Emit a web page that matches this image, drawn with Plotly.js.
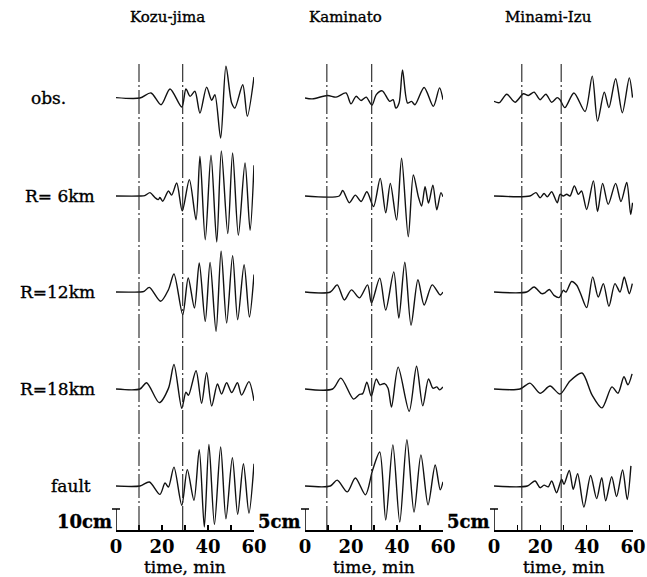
<!DOCTYPE html>
<html><head><meta charset="utf-8">
<script src="https://cdn.plot.ly/plotly-3.0.1.min.js"></script>
<style>
html,body{margin:0;padding:0;background:#fff}
#chart .annotation-text { stroke:#000; stroke-width:0.35px; }
</style>
</head><body><div id="chart" style="width:647px;height:577px"></div>
<script>
// ---------------- data ----------------
const stations = ['Kozu-jima', 'Kaminato', 'Minami-Izu'];
const models = ['obs.', 'R= 6km', 'R=12km', 'R=18km', 'fault'];
const scaleBarCm = [10, 5, 5];
const arrivalMin = [[10, 29], [9.5, 29], [12, 29]];
const tickVals = [0, 10, 20, 30, 40, 50, 60];
const tickText = ['0', '', '20', '', '40', '', '60'];
const axisTitle = 'time, min';

// Kozu-jima (cm)
const kozu_obs_t  = [0, 10.4, 15.2, 19.6, 23.5, 28.6, 30.4, 32.2, 34.3, 36.5, 39.4, 41.6, 43.0, 45.5, 47.8, 50.3, 51.7, 55.1, 57.1, 60];
const kozu_obs_cm = [0.2, 0, 2.4, -3.2, 4.3, -4.3, 4.3, 0.8, 3.2, -7.2, 5.2, -1.1, 1.6, -19.1, 15.1, -2.4, -4.8, 6.3, -8.7, 10.0];
const kozu_r6_t   = [0, 10.4, 12.5, 14.8, 17.0, 18.4, 19.1, 20.3, 22.8, 24.2, 26.4, 28.8, 31.9, 34.8, 36.5, 38.8, 41.3, 43.8, 45.8, 48.6, 50.7, 53.2, 56.1, 58.3, 60];
const kozu_r6_cm  = [0, 0, 0.2, 1.6, -0.8, -1.7, -0.7, -2.5, 2.4, 0.4, 6.2, -7.1, 7.8, -11.3, 18.9, -20.8, 19.4, -21.9, 21.4, -17.9, 20.5, -18.7, 15.7, -16.3, 14.6];
const kozu_r12_t  = [0, 10.4, 12.2, 14.5, 19.4, 22.8, 25.2, 29.0, 31.4, 34.1, 36.2, 38.8, 40.9, 43.5, 45.7, 48.1, 50.7, 52.9, 55.7, 58.0, 60];
const kozu_r12_cm = [0, 0, 0.3, 2.2, -4.4, 1.1, 8.6, -10.8, 6.7, -7.6, 13.8, -14.0, 14.1, -18.7, 19.4, -14.8, 17.3, -13.2, 13.0, -11.9, 8.3];
const kozu_r18_t  = [0, 10.4, 13.3, 18.8, 22.8, 25.2, 28.6, 30.4, 31.5, 34.8, 37.2, 39.4, 41.6, 44.1, 45.9, 48.1, 50.3, 52.8, 54.6, 57.8, 60];
const kozu_r18_cm = [0, 0, 3.0, -6.5, 0.3, 11.7, -9.2, -1.5, -3.0, 8.7, -6.8, 7.8, -8.1, 2.4, -2.4, 3.0, -1.7, 3.0, -2.9, 3.5, -5.6];
const kozu_flt_t  = [0, 10.4, 14.5, 19.1, 21.3, 22.8, 25.2, 28.6, 31.0, 33.9, 36.2, 38.4, 40.4, 42.8, 45.5, 47.8, 50.6, 52.9, 55.4, 57.8, 60];
const kozu_flt_cm = [0, 0, 1.9, -4.0, 1.4, -0.5, 9.0, -9.2, 7.8, -6.8, 17.3, -19.5, 19.8, -18.3, 18.6, -15.6, 13.5, -13.5, 10.6, -12.9, 10.6];

// Kaminato (cm)
const kami_obs_t  = [0, 3.2, 9.8, 13.5, 17.8, 20.0, 22.2, 24.4, 26.6, 29.1, 31.0, 33.6, 36.8, 38.3, 39.5, 40.9, 42.4, 44.6, 46.3, 47.8, 51.8, 55.8, 58.5, 60];
const kami_obs_cm = [0, -0.2, 0.6, 0.2, 1.2, -1.4, 0.4, -0.6, 0.2, -1.7, 0.8, 1.7, -0.8, -0.4, -2.4, -1.2, 6.7, -1.2, -0.8, -1.6, 2.5, -2.0, 2.4, -0.4];
const kami_r6_t   = [0, 14.9, 16.4, 19.3, 21.9, 24.4, 26.9, 29.8, 32.7, 35.1, 37.1, 39.8, 42.0, 44.9, 47.1, 49.3, 50.7, 52.2, 53.7, 55.6, 57.3, 59.1, 60];
const kami_r6_cm  = [0, 0, 1.3, -1.6, 0.2, -1.3, 1.0, -2.5, 4.2, -4.0, 3.0, -5.7, 9.0, -9.7, 5.0, -0.2, -2.4, 2.2, -1.7, 2.6, -3.3, 0.8, -0.2];
const kami_r12_t  = [0, 11.0, 14.0, 17.1, 20.2, 23.7, 27.2, 28.9, 32.5, 35.1, 38.6, 40.8, 43.4, 46.1, 49.1, 51.8, 55.3, 58.8, 60];
const kami_r12_cm = [0, 0, 1.7, -1.9, 0.5, -1.4, 1.7, -2.6, 3.3, -4.3, 4.8, -6.2, 7.1, -7.9, 2.9, -3.1, 1.7, -0.7, 0];
const kami_r18_t  = [0, 12.0, 15.6, 21.1, 23.7, 25.1, 26.9, 28.8, 31.0, 32.5, 34.6, 36.1, 37.6, 40.5, 45.3, 48.5, 51.2, 53.7, 55.6, 57.3, 58.5, 60];
const kami_r18_cm = [0, 0, 2.6, -2.4, -1.3, -1.1, 1.6, -1.7, 2.4, 1.0, 1.3, 0.2, -4.3, 5.2, -5.3, 5.4, -4.0, 2.4, 0.2, 0.5, -0.2, 0.5];
const kami_flt_t  = [0, 11.0, 14.0, 18.4, 21.9, 26.3, 29.4, 32.5, 35.1, 38.2, 41.2, 44.3, 47.4, 50.4, 53.5, 56.6, 58.8, 60];
const kami_flt_cm = [0, 0, 1.4, -1.4, 1.9, -2.1, 3.8, 8.1, -8.1, 9.8, -8.6, 11.0, -6.2, 7.4, -4.5, 5.0, -0.9, 1.0];

// Minami-Izu (cm)
const mina_obs_t  = [0, 2.3, 5.5, 9.1, 12.7, 14.8, 17.3, 19.9, 22.4, 24.9, 27.3, 28.5, 30.6, 34.5, 39.3, 42.4, 44.7, 47.6, 49.6, 52.5, 55.4, 58.4, 59.8];
const mina_obs_cm = [-0.8, -1.1, 0.9, -1.0, 1.0, 0.6, 1.4, -0.4, 0.9, -1.0, 0.1, -0.4, -2.3, 1.2, -3.2, 5.2, -5.5, 1.4, -2.3, 4.6, -3.5, 4.8, 0.1];
const mina_r6_t   = [0, 15.5, 18.1, 19.9, 21.6, 23.0, 24.9, 27.3, 28.5, 29.9, 31.4, 32.8, 34.7, 36.4, 37.8, 40.0, 42.9, 44.7, 46.9, 49.3, 52.5, 54.8, 57.3, 59.0, 59.8];
const mina_r6_cm  = [0, 0, 0.8, -0.4, 0.6, -0.2, 1.0, -1.6, 0.4, 0, 0.4, 0, 2.4, 0.4, 1.2, -3.2, 3.6, -3.7, 3.0, -2.0, 3.0, -1.3, 3.2, -4.4, -1.6];
const mina_r12_t  = [0, 14.1, 17.3, 20.6, 22.0, 23.9, 25.9, 28.2, 29.9, 31.1, 33.5, 35.7, 37.4, 40.0, 42.6, 45.0, 47.2, 49.6, 52.2, 54.4, 56.2, 57.3, 58.4, 59.7];
const mina_r12_cm = [0, 0, 1.2, -0.4, -0.2, 0.6, -0.8, -1.3, 0.4, 0, 2.5, 1.6, -0.4, -3.7, 3.6, -1.2, 2.0, -3.4, 2.0, 0, 3.6, 1.6, -0.4, 2.0];
const mina_r18_t  = [0, 11.2, 15.5, 19.9, 24.2, 28.5, 32.8, 38.0, 42.3, 46.6, 50.9, 53.5, 56.1, 57.8, 59.6];
const mina_r18_cm = [0, 0, 1.4, -1.0, 0.7, -1.2, 1.9, 3.8, -1.4, -4.5, 0.5, -1.0, 2.9, 1.0, 3.6];
const mina_flt_t  = [0, 14.4, 17.7, 19.9, 21.6, 23.4, 24.9, 27.0, 29.2, 30.2, 32.5, 34.2, 36.1, 38.8, 41.7, 44.3, 46.5, 48.2, 50.8, 52.9, 55.5, 57.5, 59.1];
const mina_flt_cm = [0, 0, 1.2, -0.4, 0.2, -0.2, 1.2, -1.6, 1.6, 0.4, 3.7, -0.8, 2.9, -5.0, 2.5, -3.0, 2.0, -3.5, 2.2, -2.5, 3.8, -3.2, 4.8];

const series = [
  [[kozu_obs_t, kozu_obs_cm], [kozu_r6_t, kozu_r6_cm], [kozu_r12_t, kozu_r12_cm], [kozu_r18_t, kozu_r18_cm], [kozu_flt_t, kozu_flt_cm]],
  [[kami_obs_t, kami_obs_cm], [kami_r6_t, kami_r6_cm], [kami_r12_t, kami_r12_cm], [kami_r18_t, kami_r18_cm], [kami_flt_t, kami_flt_cm]],
  [[mina_obs_t, mina_obs_cm], [mina_r6_t, mina_r6_cm], [mina_r12_t, mina_r12_cm], [mina_r18_t, mina_r18_cm], [mina_flt_t, mina_flt_cm]]
];

// ---------------- geometry / style ----------------
const W = 647, H = 577;
const colPx = [[116, 254], [305, 443], [494, 633]];
const titleX = [167, 345, 548];
const rowBase = [98, 196, 292, 389, 486];
const rowLabelPos = [[48, 'center'], [97, 'right'], [97, 'right'], [97, 'right'], [71, 'center']];
const half = 49;
const pxPerCm = [2.1, 4.2, 4.2];
const axisY = 530;
const lineTop = 64;
const axisTitleY = 567;
const SERIF = 'DejaVu Serif, Liberation Serif, serif';
const py = p => 1 - p / H;
const px = p => p / W;

const traces = [];
const layout = {
  width: W, height: H,
  margin: {l: 0, r: 0, t: 0, b: 0},
  paper_bgcolor: '#fff', plot_bgcolor: 'rgba(0,0,0,0)',
  showlegend: false,
  shapes: [], annotations: []
};

for (let c = 0; c < 3; c++) {
  const xn = c ? 'x' + (c + 1) : 'x';
  layout[c ? 'xaxis' + (c + 1) : 'xaxis'] = {
    domain: [px(colPx[c][0]), px(colPx[c][1])],
    range: [0, 60], anchor: 'free', position: py(axisY),
    showline: true, linecolor: '#000', linewidth: 1.5,
    ticks: 'inside', ticklen: 5, tickwidth: 1.3, tickcolor: '#000',
    tickmode: 'array', tickvals: tickVals, ticktext: tickText,
    tickfont: {family: SERIF, size: 18, color: '#000', weight: 'bold'},
    showgrid: false, zeroline: false, fixedrange: true
  };
  // axis title (placed as an annotation centred under the axis)
  layout.annotations.push({xref: 'paper', yref: 'paper',
    x: px((colPx[c][0] + colPx[c][1]) / 2), y: py(axisTitleY),
    xanchor: 'center', yanchor: 'middle', showarrow: false, text: axisTitle,
    font: {family: SERIF, size: 17, color: '#000'}});
  for (let r = 0; r < 5; r++) {
    const idx = r * 3 + c + 1;
    const yn = idx > 1 ? 'y' + idx : 'y';
    const s = pxPerCm[c];
    layout[idx > 1 ? 'yaxis' + idx : 'yaxis'] = {
      domain: [py(rowBase[r] + half), py(rowBase[r] - half)],
      range: [-half / s, half / s], anchor: xn, visible: false, fixedrange: true
    };
    const d = series[c][r];
    traces.push({
      type: 'scatter', mode: 'lines', x: d[0], y: d[1], xaxis: xn, yaxis: yn,
      line: {color: '#111', width: 1.4, shape: 'spline', smoothing: 0.8},
      hoverinfo: 'skip'
    });
  }
  // arrival lines
  arrivalMin[c].forEach(t => layout.shapes.push({
    type: 'line', xref: xn, yref: 'paper', x0: t, x1: t, y0: py(axisY), y1: py(lineTop),
    line: {color: '#222', width: 1.1, dash: '24px,3px,2px,3px'}
  }));
  // scale bar
  const barTop = axisY - scaleBarCm[c] * pxPerCm[c];
  layout.shapes.push({type: 'line', xref: xn, yref: 'paper', x0: 0, x1: 0, y0: py(axisY), y1: py(barTop),
    line: {color: '#000', width: 1.5}});
  layout.shapes.push({type: 'line', xref: 'paper', yref: 'paper', x0: px(colPx[c][0] - 4), x1: px(colPx[c][0] + 4),
    y0: py(barTop), y1: py(barTop), line: {color: '#000', width: 1.5}});
  layout.annotations.push({xref: 'paper', yref: 'paper', x: px(colPx[c][0] - 2), y: py(axisY - 9),
    xanchor: 'right', yanchor: 'middle', showarrow: false, text: scaleBarCm[c] + 'cm',
    font: {family: SERIF, size: 18, color: '#000', weight: 'bold'}});
  // station titles
  layout.annotations.push({xref: 'paper', yref: 'paper', x: px(titleX[c]), y: py(17),
    xanchor: 'center', yanchor: 'middle', showarrow: false, text: stations[c],
    font: {family: SERIF, size: 15, color: '#000'}});
}
for (let r = 0; r < 5; r++) {
  layout.annotations.push({xref: 'paper', yref: 'paper', x: px(rowLabelPos[r][0]), y: py(rowBase[r]),
    xanchor: rowLabelPos[r][1], yanchor: 'middle', showarrow: false, text: models[r],
    font: {family: SERIF, size: 17, color: '#000'}});
}

Plotly.newPlot('chart', traces, layout, {staticPlot: true, displayModeBar: false});
</script></body></html>
